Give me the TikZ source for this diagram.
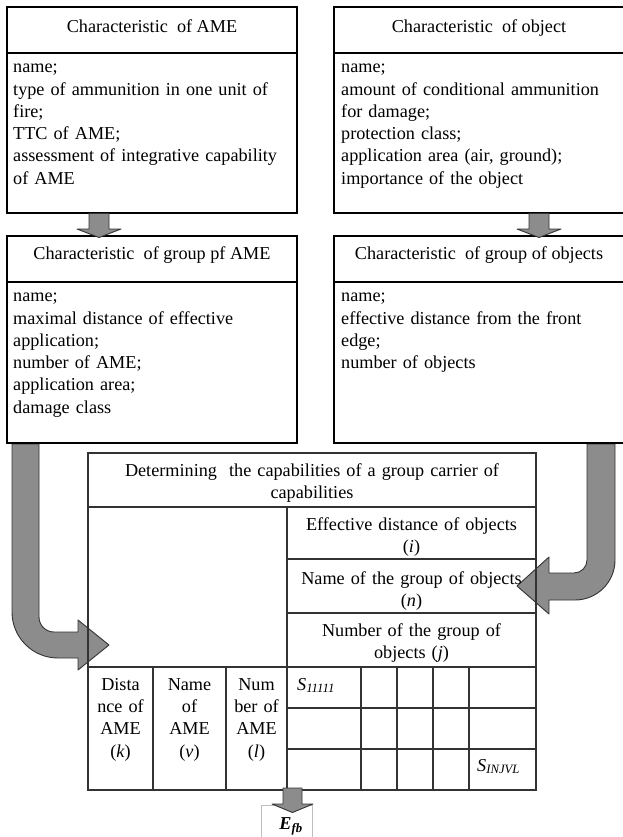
\documentclass[tikz,border=0pt]{standalone}
\usepackage{fontspec}
\setmainfont{Liberation Serif}
\begin{document}
\begin{tikzpicture}[x=1pt,y=-1pt,
  boxline/.style={draw=black, line width=1.2pt},
  tline/.style={draw=black!80, line width=1.1pt},
  barrow/.style={fill=black!45, draw=black!80, line width=0.9pt, line join=round},
  txt/.style={font=\fontsize{18.2}{22.3}\selectfont, inner sep=0pt},
  body/.style={txt, anchor=north west, text width=282pt, align=left},
  cell/.style={txt, anchor=north, align=center}]
\useasboundingbox (0,0) rectangle (622,837);
\fill[white] (0,0) rectangle (622,837);

% curved block arrows (behind boxes)
\path[barrow] (12,444) -- (12,612) .. controls (12,637.4) and (32.6,658) .. (58,658)
  -- (78,658) -- (78,670) -- (109,645) -- (78,620) -- (78,632) -- (54,632)
  .. controls (45.7,632) and (39,625.3) .. (39,617) -- (39,444) -- cycle;
\path[barrow] (615,444) -- (615,560) .. controls (615,582.1) and (597.1,600) .. (575,600)
  -- (549,600) -- (549,614) -- (517,586) -- (549,557) -- (549,573) -- (574,573)
  .. controls (581.2,573) and (587,567.2) .. (587,560) -- (587,444) -- cycle;

% top boxes
\draw[boxline] (7,7) rectangle (297,213);
\draw[boxline] (7,53) -- (297,53);
\draw[boxline] (334,7) rectangle (624,213);
\draw[boxline] (334,53) -- (624,53);
% second row boxes
\draw[boxline] (7,236) rectangle (297,443);
\draw[boxline] (7,282) -- (297,282);
\draw[boxline] (334,236) rectangle (624,443);
\draw[boxline] (334,282) -- (624,282);

% straight down arrows
\path[barrow] (89,213.5) -- (89,229) -- (77,229) -- (99,237.5) -- (121,229) -- (109,229) -- (109,213.5) -- cycle;
\path[barrow] (529,213.5) -- (529,229) -- (517,229) -- (539,237.5) -- (561,229) -- (549,229) -- (549,213.5) -- cycle;

% texts of boxes
\node[txt, anchor=base] (h1) at (152,33) {Characteristic\ \ of AME};
\node[body] (b1) at (13,56.9) {\strut name;\\ type of ammunition in one unit of\\ fire;\\ TTC of AME;\\ assessment of integrative capability\\ of AME};
\node[txt, anchor=base] (h2) at (479,33) {Characteristic\ \ of object};
\node[body] (b2) at (341,56.9) {\strut name;\\ amount of conditional ammunition\\ for damage;\\ protection class;\\ application area (air, ground);\\ importance of the object};
\node[txt, anchor=base] (h3) at (152,259) {Characteristic\ \ of group pf AME};
\node[body] (b3) at (13,285.9) {\strut name;\\ maximal distance of effective\\ application;\\ number of AME;\\ application area;\\ damage class};
\node[txt, anchor=base] (h4) at (479,259) {Characteristic\ \ of group of objects};
\node[body] (b4) at (341,285.9) {\strut name;\\ effective distance from the front\\ edge;\\ number of objects};

% table
\draw[tline] (88,453) rectangle (536,790);
\draw[tline] (88,507) -- (536,507);
\draw[tline] (287,507) -- (287,790);
\draw[tline] (287,559) -- (536,559);
\draw[tline] (287,613) -- (536,613);
\draw[tline] (88,667) -- (536,667);
\foreach \xx in {153,226,361,397,433,469} \draw[tline] (\xx,667) -- (\xx,790);
\draw[tline] (287,708) -- (536,708);
\draw[tline] (287,749) -- (536,749);

\node[cell, text width=440pt] (th) at (312,460.4) {\strut Determining\ \ the capabilities of a group carrier of\\ capabilities};
\node[cell, text width=245pt] (tc1) at (411.5,514.4) {\strut Effective distance of objects\\ (\textit{i})};
\node[cell, text width=245pt] (tc2) at (411.5,568.4) {\strut Name of the group of objects\\ (\textit{n})};
\node[cell, text width=245pt] (tc3) at (411.5,620.4) {\strut Number of the group of\\ objects (\textit{j})};
\node[cell, text width=64pt] (tk) at (120.5,674.4) {\strut Dista\\ nce of\\ AME\\ (\textit{k})};
\node[cell, text width=72pt] (tv) at (189.5,674.4) {\strut Name\\ of\\ AME\\ (\textit{v})};
\node[cell, text width=60pt] (tl) at (256.5,674.4) {\strut Num\\ ber of\\ AME\\ (\textit{l})};
\node[txt, anchor=base west] (s1) at (297,690) {\textit{S}\textsubscript{\textit{11111}}};
\node[txt, anchor=base west] (s2) at (477,771) {\textit{S}\textsubscript{\textit{INJVL}}};

% result
\draw[black!25, line width=0.6pt] (261,845) -- (261,805) -- (312,805) -- (312,845);
\path[barrow] (283,788) -- (283,804) -- (272,804) -- (292.5,812.5) -- (313,804) -- (302,804) -- (302,788) -- cycle;
\node[txt, anchor=base] (efb) at (291,829) {\textbf{\textit{E}}\textsubscript{\textbf{\textit{fb}}}};
\end{tikzpicture}
\end{document}
